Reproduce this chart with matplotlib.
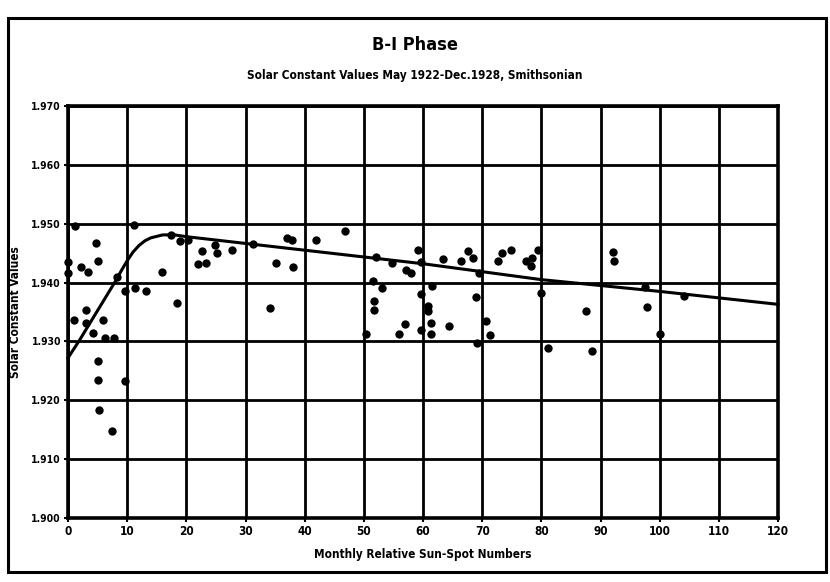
import matplotlib
matplotlib.use("Agg")
import matplotlib.pyplot as plt
from matplotlib.patches import Rectangle

# ---- data ----
sunspots = [0.0, 0.0, 1.2, 1.0, 2.2, 3.3, 3.0, 3.0, 4.7, 5.0, 4.2, 5.9, 6.2, 7.7,
            8.3, 9.7, 11.3, 13.1, 11.1, 5.1, 5.1, 9.6, 5.3, 7.5, 15.9, 17.4, 18.9,
            20.3, 18.4, 22.6, 22.0, 23.4, 24.9, 25.1, 27.7, 31.2, 35.1, 34.2, 37.0,
            37.9, 38.0, 41.9, 46.8, 50.4, 51.6, 52.0, 53.1, 51.8, 51.8, 54.7, 55.9,
            56.9, 57.2, 57.9, 59.2, 59.7, 59.7, 59.7, 60.9, 60.9, 61.5, 61.4, 61.4,
            63.4, 64.4, 66.4, 67.6, 68.4, 69.0, 69.5, 69.2, 70.6, 71.4, 72.6, 73.4,
            74.8, 77.4, 78.5, 78.3, 79.4, 80.0, 81.2, 87.5, 88.6, 92.1, 92.3, 97.5,
            97.8, 100.1, 104.1]
solar_const = [1.9435, 1.9417, 1.9496, 1.9336, 1.9427, 1.9418, 1.9354, 1.9331, 1.9467,
               1.9437, 1.9314, 1.9336, 1.9306, 1.9306, 1.9410, 1.9385, 1.9391, 1.9385,
               1.9497, 1.9267, 1.9235, 1.9233, 1.9183, 1.9147, 1.9418, 1.9481, 1.9471,
               1.9473, 1.9365, 1.9453, 1.9431, 1.9433, 1.9463, 1.9450, 1.9456, 1.9466,
               1.9434, 1.9356, 1.9475, 1.9472, 1.9426, 1.9472, 1.9487, 1.9313, 1.9402,
               1.9443, 1.9390, 1.9369, 1.9353, 1.9434, 1.9312, 1.9330, 1.9422, 1.9416,
               1.9456, 1.9435, 1.9380, 1.9319, 1.9361, 1.9352, 1.9395, 1.9331, 1.9312,
               1.9440, 1.9327, 1.9437, 1.9453, 1.9441, 1.9375, 1.9417, 1.9297, 1.9335,
               1.9311, 1.9436, 1.9450, 1.9456, 1.9436, 1.9441, 1.9428, 1.9455, 1.9382,
               1.9288, 1.9351, 1.9284, 1.9452, 1.9436, 1.9393, 1.9359, 1.9313, 1.9378]

curve_x = [0, 2, 4, 6, 8, 9, 10, 11, 12, 13, 14, 16, 18, 20, 60, 80, 100, 120]
curve_y = [1.9272, 1.9303, 1.9336, 1.9369, 1.9402, 1.9420, 1.9437, 1.9452, 1.9463,
           1.9471, 1.9476, 1.9481, 1.9481, 1.9478, 1.9432, 1.9405, 1.9385, 1.9363]

x_ticks = [0, 10, 20, 30, 40, 50, 60, 70, 80, 90, 100, 110, 120]
y_ticks = [1.900, 1.910, 1.920, 1.930, 1.940, 1.950, 1.960, 1.970]
y_tick_labels = ["1.900", "1.910", "1.920", "1.930", "1.940", "1.950", "1.960", "1.970"]

title = "B-I Phase"
subtitle = "Solar Constant Values May 1922-Dec.1928, Smithsonian"
xlabel = "Monthly Relative Sun-Spot Numbers"
ylabel = "Solar Constant Values"

# ---- drawing ----
plt.rcParams['font.family'] = ['DejaVu Sans']
fig = plt.figure(figsize=(8.3, 5.82), dpi=100)
ax = fig.add_axes([68/830, 1-518/582, (778-68)/830, (518-106)/582])

ax.set_xlim(0, 120)
ax.set_ylim(1.900, 1.970)
ax.set_xticks(x_ticks)
ax.set_yticks(y_ticks)
ax.set_xticklabels([str(t) for t in x_ticks], fontsize=8.5, fontweight='bold',
                   fontstretch='condensed')
ax.set_yticklabels(y_tick_labels, fontsize=7.5, fontweight='bold', fontstretch='condensed')
ax.tick_params(axis='both', length=3, width=1.5, color='black', pad=2)
ax.grid(True, color='black', linewidth=2.0)
ax.set_axisbelow(True)
for s in ax.spines.values():
    s.set_linewidth(2.6)

ax.plot(curve_x, curve_y, color='black', linewidth=2.2, zorder=3, clip_on=False)
ax.scatter(sunspots, solar_const, s=36, color='black', zorder=4, clip_on=False,
           linewidths=0)

ax.set_xlabel(xlabel, fontsize=8.5, fontweight='bold', fontstretch='condensed')
ax.xaxis.set_label_coords(0.5, -(548-518)/412)
ax.set_ylabel(ylabel, fontsize=8.5, fontweight='bold', fontstretch='condensed')
ax.yaxis.set_label_coords(-(68-22)/710, 0.5)

fig.text(0.5, 1-45/582, title, ha='center', va='center', fontsize=13,
         fontweight='bold', fontstretch='condensed')
fig.text(0.5, 1-75/582, subtitle, ha='center', va='center', fontsize=8.5,
         fontweight='bold', fontstretch='condensed')

# outer frame of the sheet
fig.patches.append(Rectangle((8/830, 1-572/582), (826-8)/830, (572-18)/582,
                             transform=fig.transFigure, fill=False,
                             edgecolor='black', linewidth=2.2))

fig.savefig("out.png", dpi=100, facecolor='white')
